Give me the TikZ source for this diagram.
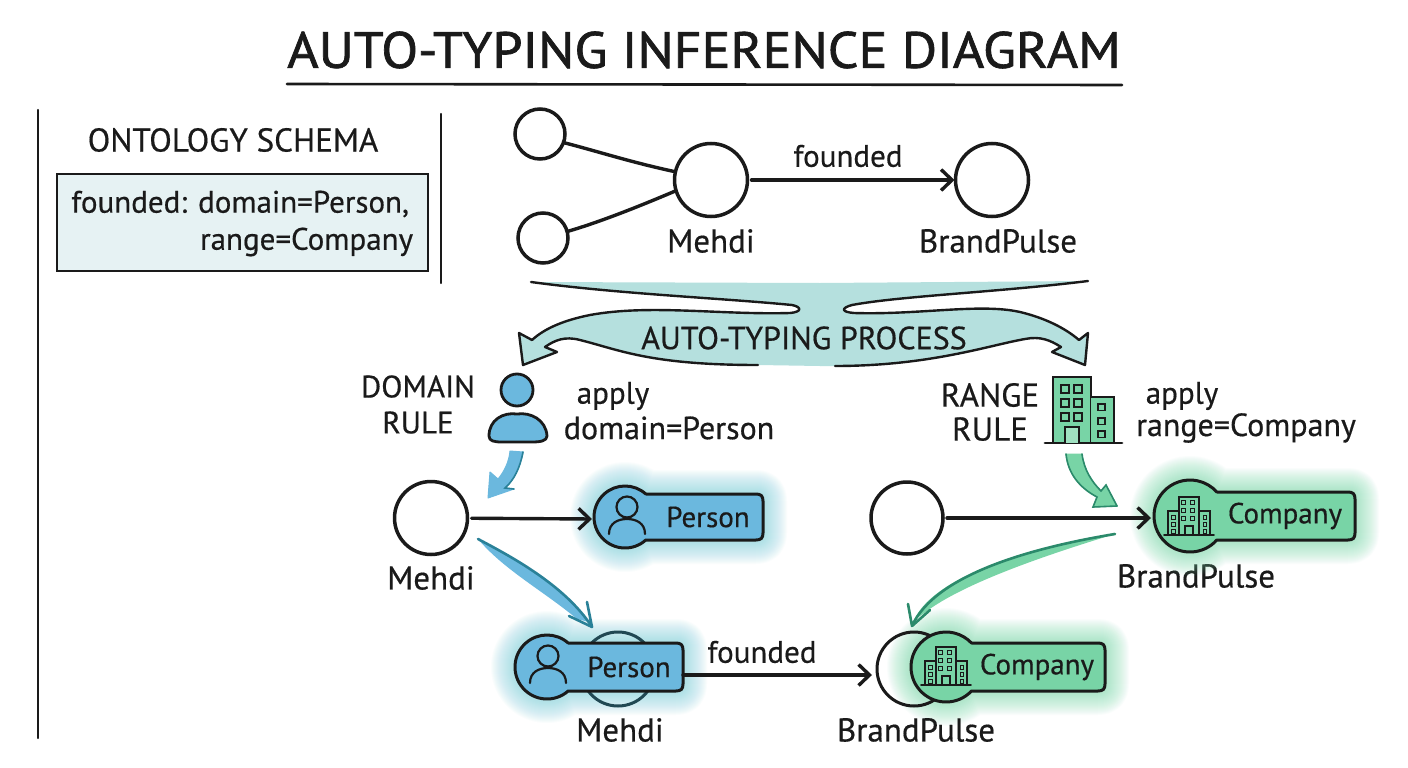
\documentclass[tikz,border=0pt]{standalone}
\usepackage{fontspec}
\setmainfont{PT Sans}[FakeBold=0.5]
\newfontfamily\titlefont{PT Sans}[FakeBold=1.3]
\usetikzlibrary{arrows.meta,calc}
\definecolor{ink}{HTML}{1A1A1A}
\definecolor{bandteal}{HTML}{B5E0DE}
\definecolor{schemafill}{HTML}{E6F2F3}
\definecolor{pblue}{HTML}{6BB8DE}
\definecolor{pglow}{HTML}{7FD3DE}
\definecolor{pdark}{HTML}{2A8198}
\definecolor{cgreen}{HTML}{78D4A6}
\definecolor{cglow}{HTML}{7FDDB0}
\definecolor{cdark}{HTML}{2B8A6B}
\tikzset{
  x=1pt,y=-1pt,
  every node/.style={text=ink,inner sep=0pt,outer sep=0pt,align=center},
  ln/.style={draw=ink,line width=3.4pt,line cap=round,line join=round},
  thinln/.style={draw=ink,line width=2.2pt,line cap=round,line join=round},
  nodecirc/.style={circle,draw=ink,line width=3.5pt,fill=white,minimum size=#1},
  arrowln/.style={ln,-{Straight Barb[length=11pt,width=21pt,line width=3.4pt]},shorten >=1pt},
  lab/.style={font=\fontsize{33}{38}\selectfont},
  labs/.style={font=\fontsize{31}{36}\selectfont},
  tagtxt/.style={font=\fontsize{29}{34}\selectfont},
}
% tag outline: options, cx cy r halfheight xright
\newcommand{\tagpath}[6]{%
  \pgfmathsetmacro{\tga}{asin(#5/#4)}%
  \pgfmathsetmacro{\tgb}{360-\tga}%
  \pgfmathsetmacro{\tgx}{#2+#4*cos(\tga)}%
  \path[#1] (\tgx,#3-#5) -- (#6-7,#3-#5) .. controls (#6-2,#3-#5) and (#6,#3-#5+2) .. (#6,#3-#5+7)
  -- (#6,#3+#5-7) .. controls (#6,#3+#5-2) and (#6-2,#3+#5) .. (#6-7,#3+#5)
  -- (\tgx,#3+#5) arc[start angle=\tga,end angle=\tgb,radius=#4] -- cycle;}
\newcommand{\tagglow}[6]{%
  \foreach \gw in {4,6,...,48}{\tagpath{draw=#1,line width=\gw pt,opacity=0.034,line join=round}{#2}{#3}{#4}{#5}{#6}}}
\newcommand{\tagbody}[6]{\tagpath{fill=#1,draw=ink,line width=3pt,line join=round}{#2}{#3}{#4}{#5}{#6}}
% small person outline
\newcommand{\smallperson}[2]{%
  \draw[draw=ink,line width=2.2pt] (#1,#2-10) circle[radius=10.5];
  \draw[draw=ink,line width=2.2pt,line cap=round] (#1-18,#2+17) .. controls (#1-18,#2+6) and (#1-9,#2+2) .. (#1,#2+2) .. controls (#1+9,#2+2) and (#1+18,#2+6) .. (#1+18,#2+17);}
% small window
\newcommand{\win}[3]{\draw[draw=ink,line width=#3] (#1,#2) rectangle ++(3.6,3.6);}
% small company icon, base centre at x y
\newcommand{\smallbldg}[2]{%
  \begin{scope}[shift={(#1,#2)}]
    \draw[draw=ink,line width=1.5pt] (-10,0) -- (-10,-38) -- (10,-38) -- (10,0);
    \draw[draw=ink,line width=1.5pt] (-10,-24) -- (-21,-24) -- (-21,0);
    \draw[draw=ink,line width=1.5pt] (10,-24) -- (21,-24) -- (21,0);
    \draw[draw=ink,line width=1.8pt,line cap=round] (-25,0) -- (25,0);
    \draw[draw=ink,line width=1.5pt] (-4,0) -- (-4,-9) -- (4,-9) -- (4,0);
    \foreach \wx in {-7.5,1.5}{\foreach \wy in {-34.5,-26.5,-18.5}{\win{\wx}{\wy}{1.1pt}}}
    \foreach \wy in {-19.5,-12.5,-5.5}{\win{-17.5}{\wy}{1pt}\win{14}{\wy}{1pt}}
  \end{scope}}
\begin{document}
\begin{tikzpicture}
\useasboundingbox (0,0) rectangle (1408,768);
\fill[white] (0,0) rectangle (1408,768);

% title
\node (title) at (704,50) {\scalebox{1.057}[1]{\fontsize{51}{58}\titlefont AUTO-TYPING INFERENCE DIAGRAM}};
\coordinate (ulL) at (287,84); \coordinate (ulR) at (1122,85);
\draw[thinln,line width=2.6pt] (ulL) -- (ulR);

% left panel
\coordinate (lineA1) at (38,110); \coordinate (lineA2) at (38,738);
\coordinate (lineB1) at (441,114); \coordinate (lineB2) at (441,283);
\draw[thinln] (lineA1) -- (lineA2);
\draw[thinln] (lineB1) -- (lineB2);
\node[lab] (schematitle) at (233,140) {ONTOLOGY SCHEMA};
\node[draw=ink,line width=2.8pt,fill=schemafill,minimum width=371pt,minimum height=97pt] (schemabox) at (242.5,222.5) {};
\node[labs,anchor=east] (schema1) at (409,204) {founded: domain=Person,};
\node[labs,anchor=east] (schema2) at (413,242) {range=Company};

% top graph
\node[nodecirc=50pt] (a) at (540,134) {};
\node[nodecirc=50pt] (b) at (543,238) {};
\node[nodecirc=73pt] (m1) at (711,180) {};
\node[nodecirc=73pt] (bp1) at (992,180) {};
\node[lab] (m1l) at (711,241) {Mehdi};
\node[lab] (bp1l) at (998,241) {BrandPulse};
\node[labs] (f1) at (848,156) {founded};
\draw[ln] (a.-20) .. controls (600,152) and (630,162) .. (m1.167);
\draw[ln] (b.15) .. controls (600,222) and (640,206) .. (m1.197);
\draw[arrowln,shorten <=4pt] (m1) -- (bp1);

% process band
\newcommand{\bandleft}{(531,282) .. controls (620,294) and (720,298) .. (792,305) .. controls (802,307) and (802,312) .. (790,313) .. controls (720,315) and (650,304) .. (590,315) .. controls (565,320) and (545,328) .. (532,340) -- (519,333) -- (523,365) -- (557,352) -- (545,347) .. controls (555,340) and (565,336) .. (580,340) .. controls (620,350) and (650,365) .. (758,365)}
\newcommand{\bandright}{(1088,281) .. controls (1000,292) and (900,296) .. (852,305) .. controls (841,308) and (841,312) .. (854,313) .. controls (920,315) and (980,303) .. (1020,312) .. controls (1045,318) and (1065,328) .. (1079,340) -- (1088,333) -- (1085,365) -- (1052,352) -- (1061,347) .. controls (1050,340) and (1040,336) .. (1025,339) .. controls (990,345) and (930,366) .. (835,366)}
\fill[bandteal] \bandleft -- (820,366) -- (820,283) -- cycle;
\fill[bandteal] \bandright -- (820,366) -- (820,283) -- cycle;
\draw[thinln,line width=2.4pt] \bandleft;
\draw[thinln,line width=2.4pt] \bandright;
\node[font=\fontsize{32}{37}\selectfont] (proc) at (804,338) {AUTO-TYPING PROCESS};

% domain rule
\node[labs] (dom) at (418,404.5) {DOMAIN\\RULE};
\node[labs] (ap1) at (613,396) {apply};
\node[font=\fontsize{32}{37}\selectfont] (ap1b) at (669,428) {domain=Person};
\filldraw[fill=pblue,draw=ink,line width=2.8pt] (517,390) circle[radius=16];
\filldraw[fill=pblue,draw=ink,line width=2.8pt,line join=round] (489,436) .. controls (489,420) and (503,412) .. (517,414) .. controls (531,412) and (546,420) .. (547,436) .. controls (547,441) and (540,442) .. (532,442) -- (502,442) .. controls (494,442) and (489,441) .. (489,436) -- cycle;

% range rule
\node[lab] (ran) at (990,412) {RANGE\\[-4pt]RULE};
\node[labs] (ap2) at (1182,396) {apply};
\node[font=\fontsize{32}{37}\selectfont] (ap2b) at (1246,428) {range=Company};
\filldraw[fill=cgreen,draw=ink,line width=2.4pt] (1053,443) -- (1053,377) -- (1091,377) -- (1091,443);
\filldraw[fill=cgreen,draw=ink,line width=2.4pt] (1091,397) -- (1114,397) -- (1114,443) -- (1091,443);
\draw[draw=ink,line width=2.8pt,line cap=round] (1045,443) -- (1122,443);
\filldraw[fill=cgreen!70!white,draw=ink,line width=2.2pt] (1065,443) -- (1065,427) -- (1079,427) -- (1079,443);
\foreach \wx in {1061,1074}{\foreach \wy in {385,399,413}{\draw[draw=ink,line width=1.9pt] (\wx,\wy) rectangle ++(8,8);}}
\foreach \wy in {404,418,431}{\draw[draw=ink,line width=1.8pt] (1098,\wy) rectangle ++(7,6.5);}

% domain/range short arrows
\coordinate (dtip) at (488,498);
\filldraw[fill=pblue,draw=pblue,line width=1pt,line join=round] (510,451) -- (523,452) .. controls (520,468) and (514,480) .. (505,488) -- (514,489) -- (dtip) -- (490,472) -- (498,479) .. controls (504,472) and (509,462) .. (510,451) -- cycle;
\draw[draw=pdark,line width=1.6pt,line cap=round] (523,452) .. controls (520,468) and (514,480) .. (505,488) -- (514,489);
\coordinate (gtip) at (1117,506);
\filldraw[fill=cgreen,draw=cgreen,line width=1pt,line join=round] (1066,454) -- (1082,454) .. controls (1084,470) and (1092,482) .. (1101,491) -- (1106,485) -- (gtip) -- (1093,507) -- (1097,497) .. controls (1080,488) and (1068,474) .. (1066,454) -- cycle;
\draw[draw=cdark,line width=1.6pt,line cap=round] (1066,454) .. controls (1068,474) and (1080,488) .. (1097,497) -- (1093,507) -- (gtip);
\draw[draw=cdark,line width=1.6pt,line cap=round] (1082,454) .. controls (1084,470) and (1092,482) .. (1101,491) -- (1106,485) -- (gtip);

% row 2
\node[nodecirc=73pt] (m2) at (431,518) {};
\node[lab] (m2l) at (431,578) {Mehdi};
\node[nodecirc=72pt] (bp2) at (907,518) {};
\node[lab] (bp2l) at (1196,576) {BrandPulse};
\tagglow{pglow}{625}{517}{31}{23}{763}
\tagbody{pblue}{625}{517}{31}{23}{763}
\smallperson{627}{517}
\node[tagtxt] (ptag) at (708,517) {Person};
\coordinate (ptagL) at (593,519);
\tagglow{cglow}{1190}{516}{36}{24}{1355}
\tagbody{cgreen}{1190}{516}{36}{24}{1355}
\smallbldg{1189}{535}
\node[tagtxt] (ctag) at (1285,516) {Company};
\coordinate (ctagL) at (1152,518);
\draw[arrowln,shorten <=4pt] (m2) -- (ptagL);
\draw[arrowln,shorten <=4pt] (bp2) -- (ctagL);

% bottom row
\tagglow{pglow}{547}{667}{32}{24}{683}
\tagglow{cglow}{946}{667}{35}{24}{1105}
\node[nodecirc=74pt,draw=ink,line width=3pt,fill=none] (bp3) at (914,669) {};
\node[nodecirc=74pt,draw=pdark!45!ink,line width=3pt,fill=none] (m3) at (618,669) {};
\tagbody{pblue}{547}{667}{32}{24}{683}
\smallperson{548}{666}
\node[tagtxt] (ptag3) at (629,667) {Person};
\tagbody{cgreen}{946}{667}{35}{24}{1105}
\smallbldg{946}{685}
\node[tagtxt] (ctag3) at (1037,667) {Company};
\coordinate (ptag3R) at (683,675);
\coordinate (bp3L) at (873,675);
\draw[arrowln] (ptag3R) -- (bp3L);
\node[labs] (f3) at (762,652) {founded};
\node[lab] (m3l) at (620,730) {Mehdi};
\node[lab] (bp3l) at (916,730) {BrandPulse};

% long coloured arrows
\coordinate (lt) at (592,627);
\fill[pblue] (478,539) .. controls (504,570) and (545,592) .. (577,619) -- (589,622) .. controls (560,585) and (510,556) .. (478,539) -- cycle;
\draw[draw=pdark,line width=2.6pt,line cap=round,line join=round] (478,539) .. controls (510,556) and (565,585) .. (lt) -- (587,602);
\draw[draw=pdark,line width=2.6pt,line cap=round] (569,616) -- (lt);
\coordinate (rs) at (1115,534);
\coordinate (rt) at (912,626);
\fill[cgreen] (rs) .. controls (1036,558) and (958,586) .. (923,614) -- (914,620) .. controls (935,575) and (1030,548) .. (rs) -- cycle;
\draw[draw=cdark,line width=2.6pt,line cap=round,line join=round] (rs) .. controls (1030,548) and (935,575) .. (rt) -- (908,604);
\draw[draw=cdark,line width=2.6pt,line cap=round] (930,610) -- (rt);
\end{tikzpicture}
\end{document}
